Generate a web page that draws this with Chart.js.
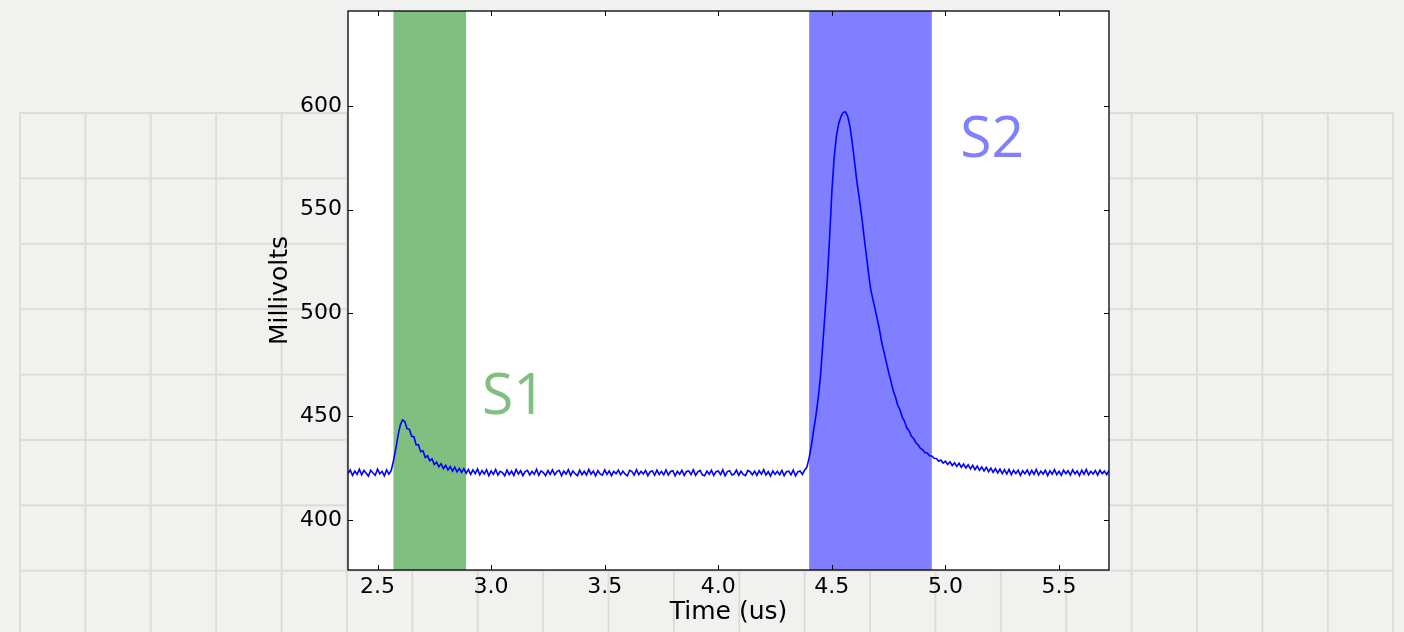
<!DOCTYPE html>
<html>
<head>
<meta charset="utf-8">
<script src="https://cdn.jsdelivr.net/npm/chart.js@4"></script>
<style>
  html, body { margin: 0; padding: 0; }
  body { width: 1404px; height: 632px; background: #f1f1ef; position: relative; overflow: hidden; }
  #paper {
    position: absolute; left: 19px; top: 112px; width: 1375px; height: 530px;
    background-image: linear-gradient(to right, #dcdcd9 1.5px, transparent 1.5px),
                      linear-gradient(to bottom, #dcdcd9 1.5px, transparent 1.5px);
    background-size: 65.4px 65.4px;
  }
  #wrap { position: absolute; left: 0; top: 0; width: 1404px; height: 632px; }
</style>
</head>
<body>
<div id="paper"></div>
<div id="wrap"><canvas id="pulseChart"></canvas></div>
<script>
// sample clock of the scope trace (us)
var sampleStart = 2.37;
var sampleStep = 0.01;

// trace values in mV, one per sample
var millivolts = [
    422.4, 424.1, 421.5, 423.6, 422.0, 424.5, 421.8, 423.9, 422.6, 421.2,
    424.0, 422.7, 421.6, 424.6, 422.3, 423.5, 421.3, 424.2, 422.1, 423.8,
    428.5, 434.2, 440.6, 445.8, 448.3, 447.6, 444.1, 443.8, 440.4, 440.2,
    436.4, 436.3, 433.0, 433.4, 430.2, 431.0, 428.6, 429.5, 426.8, 427.9,
    425.7, 427.1, 424.8, 426.4, 424.2, 425.8, 423.6, 425.5, 423.2, 424.9,
    423.0, 424.8, 422.5, 424.4, 422.0, 424.2, 422.4, 424.6, 421.8, 423.9,
    422.2, 424.3, 421.4, 423.7, 422.0, 424.4, 421.7, 423.5, 422.9, 421.3,
    424.1, 421.9, 423.6, 421.5, 424.4, 422.2, 423.8, 421.4, 423.4, 424.0,
    421.7, 423.5, 422.1, 424.5, 421.6, 423.7, 422.9, 421.4, 423.9, 422.0,
    424.2, 421.8, 423.4, 424.0, 421.3, 423.6, 422.1, 424.3, 421.5, 423.7,
    422.3, 421.4, 424.1, 421.9, 423.5, 421.7, 424.4, 422.1, 423.6, 421.3,
    423.8, 422.2, 421.6, 424.2, 422.0, 423.7, 421.4, 423.5, 422.3, 424.1,
    421.8, 423.6, 422.1, 421.3, 424.0, 423.4, 421.7, 424.3, 421.9, 423.5,
    422.2, 423.9, 421.4, 423.3, 423.7, 421.6, 424.1, 422.0, 423.5, 421.8,
    424.2, 421.7, 423.4, 423.8, 421.3, 423.5, 422.1, 424.0, 421.5, 423.4,
    423.7, 421.9, 424.3, 421.6, 423.2, 423.9, 421.8, 421.4, 423.6, 422.1,
    424.0, 421.5, 423.3, 423.7, 421.9, 424.2, 421.3, 423.4, 423.8, 421.7,
    422.2, 424.1, 421.6, 423.5, 422.0, 421.4, 423.9, 423.3, 421.8, 423.6,
    421.5, 423.8, 422.1, 424.3, 421.7, 423.4, 421.2, 423.7, 422.0, 423.5,
    421.9, 424.0, 421.4, 423.3, 423.6, 421.8, 424.1, 421.3, 423.2, 423.7,
    422.0, 424.0, 425.5, 430.0, 436.0, 443.5, 450.5, 459.0, 469.5, 485.0,
    500.0, 516.5, 536.5, 558.5, 575.0, 585.5, 591.5, 595.0, 597.0, 597.2,
    595.0, 590.0, 582.0, 573.0, 563.5, 556.0, 548.0, 538.5, 529.5, 520.5,
    512.0, 507.0, 502.0, 497.0, 491.8, 485.5, 481.0, 476.0, 471.3, 467.0,
    462.5, 459.4, 455.4, 453.2, 449.6, 447.7, 444.4, 443.2, 440.4, 439.4,
    437.3, 436.2, 434.6, 433.9, 432.5, 432.4, 431.0, 430.9, 429.8, 429.7,
    428.4, 429.0, 427.5, 428.4, 426.8, 428.1, 426.3, 427.6, 425.9, 427.4,
    425.5, 427.0, 425.1, 426.7, 424.7, 426.4, 424.3, 426.0, 424.0, 425.6,
    423.7, 425.4, 423.3, 425.1, 423.0, 424.8, 422.7, 424.5, 422.4, 424.3,
    422.2, 424.4, 421.9, 424.0, 422.4, 424.1, 421.6, 423.8, 422.3, 424.2,
    421.8, 423.9, 422.1, 424.4, 421.7, 423.6, 422.2, 424.0, 421.4, 423.7,
    422.1, 424.3, 421.9, 423.5, 421.6, 424.1, 422.4, 423.8, 421.7, 424.2,
    422.3, 423.7, 421.4, 424.0, 422.1, 424.4, 421.8, 423.5, 422.2, 423.9,
    421.7, 424.1, 422.4, 423.6, 421.9, 424.0
];

var xTicks = [2.5, 3.0, 3.5, 4.0, 4.5, 5.0, 5.5];
var yTicks = [400, 450, 500, 550, 600];

// integration windows
var bandNames = ['S1', 'S2'];
var bandStart = [2.57, 4.40];
var bandEnd = [2.89, 4.94];
var bandLabelX = [2.96, 5.065];
var bandLabelY = [451.3, 575.3];
var bandColors = ['#7fbf7f', '#7f7fff'];

var points = millivolts.map(function(v, i) {
    return { x: +(sampleStart + i * sampleStep).toFixed(2), y: v };
});

var framePlugin = {
    id: 'frame',
    beforeDraw: function(chart) {
        var a = chart.chartArea, ctx = chart.ctx;
        ctx.save();
        ctx.fillStyle = '#ffffff';
        ctx.fillRect(a.left, a.top, a.right - a.left, a.bottom - a.top);
        ctx.restore();
    },
    beforeDatasetsDraw: function(chart) {
        var a = chart.chartArea, ctx = chart.ctx, x = chart.scales.x;
        ctx.save();
        for (var i = 0; i < bandNames.length; i++) {
            var x0 = x.getPixelForValue(bandStart[i]);
            var x1 = x.getPixelForValue(bandEnd[i]);
            ctx.fillStyle = bandColors[i];
            ctx.fillRect(x0, a.top, x1 - x0, a.bottom - a.top);
        }
        ctx.restore();
    },
    afterDatasetsDraw: function(chart) {
        var a = chart.chartArea, ctx = chart.ctx;
        var x = chart.scales.x, y = chart.scales.y;
        ctx.save();
        // inward ticks on all sides
        ctx.strokeStyle = '#000';
        ctx.lineWidth = 1;
        ctx.beginPath();
        xTicks.forEach(function(t) {
            var px = Math.round(x.getPixelForValue(t)) + 0.5;
            ctx.moveTo(px, a.bottom); ctx.lineTo(px, a.bottom - 5);
            ctx.moveTo(px, a.top); ctx.lineTo(px, a.top + 5);
        });
        yTicks.forEach(function(t) {
            var py = Math.round(y.getPixelForValue(t)) + 0.5;
            ctx.moveTo(a.left, py); ctx.lineTo(a.left + 5, py);
            ctx.moveTo(a.right, py); ctx.lineTo(a.right - 5, py);
        });
        ctx.stroke();
        ctx.lineWidth = 1.3;
        ctx.strokeRect(a.left, a.top, a.right - a.left, a.bottom - a.top);
        // window labels
        ctx.font = '57px "Open Sans"';
        ctx.textAlign = 'left';
        ctx.textBaseline = 'alphabetic';
        for (var i = 0; i < bandNames.length; i++) {
            ctx.fillStyle = bandColors[i];
            ctx.fillText(bandNames[i], x.getPixelForValue(bandLabelX[i]), y.getPixelForValue(bandLabelY[i]));
        }
        ctx.restore();
    }
};

var ctx = document.getElementById('pulseChart').getContext('2d');
var pulseChart = new Chart(ctx, {
    type: 'line',
    data: {
        datasets: [{
            data: points,
            borderColor: '#0000ff',
            borderWidth: 1.6,
            pointRadius: 0,
            tension: 0,
            fill: false
        }]
    },
    options: {
        responsive: true,
        maintainAspectRatio: false,
        animation: false,
        devicePixelRatio: 1,
        layout: { padding: { left: 265, top: 11, right: 295, bottom: 0 } },
        plugins: { legend: { display: false }, tooltip: { enabled: false } },
        scales: {
            x: {
                type: 'linear',
                min: 2.37,
                max: 5.72,
                afterBuildTicks: function(scale) {
                    scale.ticks = xTicks.map(function(v) { return { value: v }; });
                },
                afterFit: function(scale) {
                    scale.height = 62;
                    scale.paddingLeft = 0;
                    scale.paddingRight = 0;
                },
                grid: { display: false, drawTicks: false },
                border: { display: false },
                ticks: {
                    padding: 4,
                    color: '#000',
                    font: { family: 'DejaVu Sans', size: 22 },
                    maxRotation: 0,
                    callback: function(v) { return v.toFixed(1); }
                },
                title: {
                    display: true,
                    text: 'Time (us)',
                    color: '#000',
                    font: { family: 'DejaVu Sans', size: 25 },
                    padding: { top: 0, bottom: 5 }
                }
            },
            y: {
                min: 375.8,
                max: 646,
                afterBuildTicks: function(scale) {
                    scale.ticks = yTicks.map(function(v) { return { value: v }; });
                },
                afterFit: function(scale) {
                    scale.width = 348 - 265;
                    scale.paddingTop = 0;
                    scale.paddingBottom = 0;
                },
                grid: { display: false, drawTicks: false },
                border: { display: false },
                ticks: {
                    padding: 6,
                    color: '#000',
                    font: { family: 'DejaVu Sans', size: 22 },
                    callback: function(v) { return String(v); }
                },
                title: {
                    display: true,
                    text: 'Millivolts',
                    color: '#000',
                    font: { family: 'DejaVu Sans', size: 25 },
                    padding: { top: 0, bottom: 0 }
                }
            }
        }
    },
    plugins: [framePlugin]
});
</script>
</body>
</html>
